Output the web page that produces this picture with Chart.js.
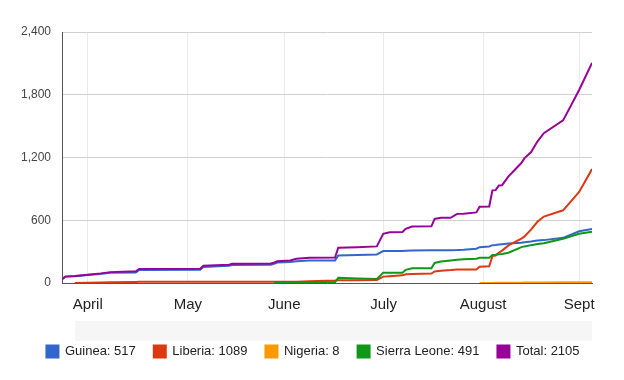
<!DOCTYPE html>
<html>
<head>
<meta charset="utf-8">
<script src="https://cdn.jsdelivr.net/npm/chart.js@4.4.1/dist/chart.umd.min.js"></script>
<style>
  html, body { margin: 0; padding: 0; background: #ffffff; }
  #wrap { width: 624px; height: 380px; position: relative; }
</style>
</head>
<body>
<div id="wrap"><canvas id="c" width="624" height="380"></canvas></div>
<script>
// Days counted from 1 April 2014 (cumulative Ebola deaths, 2014)
const reportDay = [-8,-7,-4,0,4,7,15,16,35,36,44,45,57,58,59,63,65,69,77,78,84,90,92,94,98,99,101,107,108,110,113,115,117,121,122,125,126,127,128,129,131,135,136,138,140,142,148,153,157];

const guinea = [35,61,65,77,87,97,
  101,124,126,154,164,172,
  175,183,195,200,208,214,
  216,264,267,273,305,307,
  307,309,310,312,313,313,
  314,315,318,328,343,350,
  362,364,367,370,377,384,
  390,396,406,410,432,495,
  517];

const liberia = [null,null,1,3,5,7,
  10,11,11,11,11,11,
  11,11,12,12,13,16,
  24,27,27,29,61,65,
  73,83,86,90,110,118,
  124,130,130,130,155,160,
  257,262,289,310,360,425,
  445,510,585,635,695,870,
  1089];

const nigeria = [null,null,null,null,null,null,
  null,null,null,null,null,null,
  null,null,null,null,null,null,
  null,null,null,null,null,null,
  null,null,null,null,null,null,
  null,null,null,null,1,1,
  1,2,2,2,2,3,
  4,4,5,5,6,7,
  8];

const sierraLeone = [null,null,null,null,null,null,
  null,null,null,null,null,null,
  null,3,5,6,6,6,
  7,50,42,38,99,99,
  99,126,140,140,192,205,
  216,222,226,232,242,242,
  267,270,275,278,290,343,
  350,362,372,380,423,470,
  491];

const total = [35,61,66,80,92,104,
  112,135,137,165,175,183,
  186,195,208,216,232,242,
  244,337,342,350,470,486,
  488,518,540,542,613,623,
  624,661,663,675,730,732,
  886,888,933,935,1019,1147,
  1194,1250,1352,1432,1555,1845,
  2105];

const seriesNames = ['Guinea: 517', 'Liberia: 1089', 'Nigeria: 8', 'Sierra Leone: 491', 'Total: 2105'];
const seriesColors = ['#3366cc', '#dc3912', '#ff9900', '#109618', '#990099'];

const tickDays = [0, 31.2, 61.2, 92.1, 123.1, 153];
const tickLabels = ['April', 'May', 'June', 'July', 'August', 'Sept'];
const yTicks = [0, 600, 1200, 1800, 2400];

const FONT = 'Arial, "Liberation Sans", sans-serif';

function toPoints(vals) {
  return reportDay.map((d, i) => ({ x: d, y: vals[i] }));
}

const allSeries = [guinea, liberia, nigeria, sierraLeone, total];
const datasets = allSeries.map((vals, i) => ({
  label: seriesNames[i],
  data: toPoints(vals),
  borderColor: seriesColors[i],
  backgroundColor: seriesColors[i],
  borderWidth: 2,
  pointRadius: 0,
  tension: 0,
  spanGaps: false,
  order: allSeries.length - i
}));

const bandPlugin = {
  id: 'band',
  beforeDraw(chart) {
    const ctx = chart.ctx;
    ctx.save();
    ctx.fillStyle = '#f6f6f6';
    ctx.fillRect(75, 321, 517, 20);
    ctx.restore();
  }
};

// centre the legend on the whole canvas (the plot area is offset to the left)
const legendShift = {
  id: 'legendShift',
  afterLayout(chart) {
    if (chart.legend) {
      chart.legend.left += 12;
      chart.legend.right += 12;
    }
  }
};

new Chart(document.getElementById('c'), {
  type: 'line',
  data: { datasets },
  plugins: [bandPlugin, legendShift],
  options: {
    responsive: false,
    animation: false,
    devicePixelRatio: 1,
    layout: { padding: { left: 10, right: 32, top: 32, bottom: 12 } },
    plugins: {
      tooltip: { enabled: false },
      legend: {
        position: 'bottom',
        align: 'center',
        labels: {
          boxWidth: 12,
          boxHeight: 12,
          padding: 18,
          color: '#222222',
          font: { family: FONT, size: 13 },
          sort: (a, b) => a.datasetIndex - b.datasetIndex
        }
      }
    },
    scales: {
      x: {
        type: 'linear',
        min: -8,
        max: 157,
        afterBuildTicks: (axis) => { axis.ticks = tickDays.map(v => ({ value: v })); },
        ticks: {
          autoSkip: false,
          maxRotation: 0,
          padding: 13,
          color: '#222222',
          font: { family: FONT, size: 15 },
          callback: (v, i) => tickLabels[i]
        },
        grid: { color: '#ebebeb', drawTicks: false },
        border: { color: '#555555', width: 1 }
      },
      y: {
        min: 0,
        max: 2400,
        afterBuildTicks: (axis) => { axis.ticks = yTicks.map(v => ({ value: v })); },
        ticks: {
          padding: 11,
          color: '#444444',
          font: { family: FONT, size: 12 },
          callback: (v) => v.toLocaleString('en-US')
        },
        grid: { color: '#d0d0d0', drawTicks: false },
        border: { color: '#555555', width: 1 }
      }
    }
  }
});
</script>
</body>
</html>
